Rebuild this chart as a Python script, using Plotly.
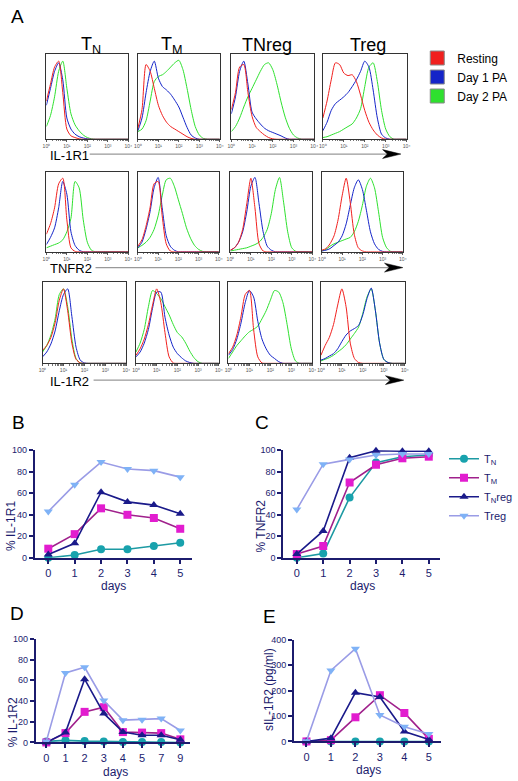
import math
import plotly.graph_objects as go

W, H = 518, 781

# ---------------- data ----------------
LOG_X = [0.0, 0.2, 0.4, 0.6, 0.8, 1.0, 1.2, 1.4, 1.6, 1.8, 2.0,
         2.2, 2.4, 2.6, 2.8, 3.0, 3.2, 3.4, 3.6, 3.8, 4.0]
DECADE_TICKS = [0, 1, 2, 3, 4]
DECADE_LABELS = ["10⁰", "10¹", "10²", "10³", "10⁴"]

CELL_TYPES = ["T<sub>N</sub>", "T<sub>M</sub>", "TNreg", "Treg"]
ROW_MARKERS = ["IL-1R1", "TNFR2", "IL-1R2"]
CONDITIONS = ["Resting", "Day 1 PA", "Day 2 PA"]

# histogram heights (% of mode) at LOG_X, order: TN, TM, TNreg, Treg
IL1R1_RESTING = [
    [45, 65, 85, 92, 55, 12, 4, 2, 0.5, 0, 0, 0, 0, 0, 0, 0, 0, 0, 0, 0, 0],
    [13, 35, 88, 80, 60, 40, 28, 20, 15, 12, 9, 6, 3, 1, 0, 0, 0, 0, 0, 0, 0],
    [35, 55, 85, 88, 55, 27, 14, 9, 5, 2, 0.5, 0, 0, 0, 0, 0, 0, 0, 0, 0, 0],
    [25, 45, 70, 90, 88, 78, 75, 76, 68, 52, 34, 20, 11, 5, 1.5, 0, 0, 0, 0, 0, 0],
]
IL1R1_DAY1 = [
    [40, 60, 80, 90, 70, 25, 12, 6, 3, 1.5, 0.5, 0, 0, 0, 0, 0, 0, 0, 0, 0, 0],
    [10, 25, 55, 80, 92, 72, 62, 58, 53, 46, 38, 26, 14, 5, 1.5, 0, 0, 0, 0, 0, 0],
    [30, 50, 80, 92, 65, 32, 24, 18, 13, 10, 8, 6, 4, 1.5, 0, 0, 0, 0, 0, 0, 0],
    [10, 20, 34, 42, 46, 50, 55, 62, 70, 80, 92, 85, 58, 25, 6, 1.5, 0, 0, 0, 0, 0],
]
IL1R1_DAY2 = [
    [15, 28, 50, 80, 92, 60, 30, 17, 10, 5, 2, 0.5, 0, 0, 0, 0, 0, 0, 0, 0, 0],
    [9, 12, 22, 45, 68, 74, 76, 80, 85, 90, 93, 82, 60, 35, 15, 5, 1, 0, 0, 0, 0],
    [9, 15, 25, 38, 50, 60, 70, 80, 88, 90, 82, 65, 44, 26, 13, 5, 1.5, 0, 0, 0, 0],
    [2, 3, 5, 7, 9, 12, 15, 18, 25, 36, 62, 85, 90, 68, 34, 12, 3, 0, 0, 0, 0],
]

TNFR2_RESTING = [
    [22, 35, 55, 85, 92, 40, 5, 0.5, 0, 0, 0, 0, 0, 0, 0, 0, 0, 0, 0, 0, 0],
    [7, 15, 32, 55, 85, 88, 45, 10, 1, 0, 0, 0, 0, 0, 0, 0, 0, 0, 0, 0, 0],
    [2, 5, 12, 28, 60, 92, 55, 10, 1, 0, 0, 0, 0, 0, 0, 0, 0, 0, 0, 0, 0],
    [2, 4, 10, 20, 40, 70, 92, 62, 22, 5, 1, 0, 0, 0, 0, 0, 0, 0, 0, 0, 0],
]
TNFR2_DAY1 = [
    [9, 18, 30, 55, 88, 72, 25, 8, 2, 0, 0, 0, 0, 0, 0, 0, 0, 0, 0, 0, 0],
    [5, 12, 28, 50, 80, 93, 55, 20, 7, 2, 0, 0, 0, 0, 0, 0, 0, 0, 0, 0, 0],
    [2, 5, 12, 25, 50, 82, 93, 60, 25, 7, 2, 0, 0, 0, 0, 0, 0, 0, 0, 0, 0],
    [1, 2, 4, 8, 12, 20, 35, 58, 80, 90, 78, 52, 25, 10, 3, 0.5, 0, 0, 0, 0, 0],
]
TNFR2_DAY2 = [
    [5, 7, 9, 11, 15, 25, 42, 88, 80, 40, 12, 2, 0, 0, 0, 0, 0, 0, 0, 0, 0],
    [5, 8, 12, 18, 28, 45, 70, 90, 92, 82, 65, 48, 30, 17, 8, 3, 0.5, 0, 0, 0, 0],
    [1, 2, 3, 4, 5, 7, 9, 12, 18, 28, 48, 78, 93, 62, 25, 5, 0.5, 0, 0, 0, 0],
    [1, 3, 7, 10, 12, 14, 16, 18, 25, 38, 58, 82, 92, 80, 50, 18, 5, 0.5, 0, 0, 0],
]

IL1R2_RESTING = [
    [16, 22, 32, 50, 78, 92, 65, 25, 5, 0.5, 0, 0, 0, 0, 0, 0, 0, 0, 0, 0, 0],
    [10, 18, 30, 48, 72, 92, 75, 38, 8, 0.5, 0, 0, 0, 0, 0, 0, 0, 0, 0, 0, 0],
    [12, 20, 35, 58, 85, 90, 42, 8, 0.5, 0, 0, 0, 0, 0, 0, 0, 0, 0, 0, 0, 0],
    [10, 22, 32, 48, 72, 92, 70, 25, 6, 1, 0, 0, 0, 0, 0, 0, 0, 0, 0, 0, 0],
]
IL1R2_DAY1 = [
    [8, 14, 24, 40, 65, 85, 92, 58, 20, 4, 0.5, 0, 0, 0, 0, 0, 0, 0, 0, 0, 0],
    [8, 14, 25, 42, 68, 88, 88, 57, 35, 20, 12, 7, 3, 1, 0, 0, 0, 0, 0, 0, 0],
    [10, 17, 30, 50, 75, 90, 82, 52, 30, 18, 10, 6, 2, 0, 0, 0, 0, 0, 0, 0, 0],
    [4, 6, 9, 12, 18, 27, 35, 40, 43, 47, 60, 80, 93, 65, 25, 5, 1, 0, 0, 0, 0],
]
IL1R2_DAY2 = [
    [14, 22, 35, 55, 85, 92, 70, 30, 6, 0.5, 0, 0, 0, 0, 0, 0, 0, 0, 0, 0, 0],
    [14, 25, 42, 70, 90, 86, 80, 70, 60, 48, 38, 33, 25, 15, 7, 2, 0, 0, 0, 0, 0],
    [6, 14, 22, 28, 34, 39, 42, 46, 55, 65, 78, 90, 88, 75, 48, 18, 3, 0, 0, 0, 0],
    [3, 5, 7, 10, 14, 18, 23, 30, 37, 45, 62, 82, 92, 65, 25, 5, 1, 0, 0, 0, 0],
]

HIST_ROWS = [
    [IL1R1_RESTING, IL1R1_DAY1, IL1R1_DAY2],
    [TNFR2_RESTING, TNFR2_DAY1, TNFR2_DAY2],
    [IL1R2_RESTING, IL1R2_DAY1, IL1R2_DAY2],
]

SERIES = ["T<sub>N</sub>", "T<sub>M</sub>", "T<sub>N</sub>reg", "Treg"]

DAYS_BC = [0, 1, 2, 3, 4, 5]
B_IL1R1 = [
    [0, 2.7, 8, 8, 11, 14],
    [8.5, 22, 46, 40, 37, 27],
    [3, 13.5, 61, 52, 49, 41],
    [43, 68, 89, 82.5, 81, 75],
]
C_TNFR2 = [
    [0, 4, 56, 88.5, 94, 95.5],
    [3.5, 11, 70, 86.5, 92.5, 94],
    [3.5, 25, 93, 99.5, 99, 99],
    [45, 87, 91.5, 95.5, 96.5, 96.5],
]
DAYS_D = ["0", "1", "2", "3", "4", "5", "7", "9"]
D_IL1R2 = [
    [1, 2, 1.3, 1, 0.3, 0.3, 0.3, 0],
    [0, 9, 29.5, 34, 10, 9.5, 9, 3],
    [0, 9.5, 61, 28, 10, 7, 7, 2.5],
    [1, 67, 72.5, 40.5, 21.5, 22, 23, 11.5],
]
DAYS_E = [0, 1, 2, 3, 4, 5]
E_SIL1R2 = [
    [0, 0, 0, 0, 0, 0],
    [0, 5, 95, 182, 112, 10],
    [0, 13, 192, 175, 39, 8],
    [1, 279, 365, 104, 58, 29],
]

# ---------------- style ----------------
FONT = "Liberation Sans, Arial, sans-serif"
NAVY = "#1c1c6e"
HIST_COLORS = ["#f0201e", "#1424c8", "#2ee02e"]
LINE_COLORS = ["#1d9aa3", "#a0218c", "#1a1a8a", "#9a9ce6"]
MARKER_COLORS = ["#18a2ad", "#e21ccf", "#1a1a8a", "#7fb2f6"]
SYMBOLS = ["circle", "square", "triangle-up", "triangle-down"]


def px(x):
    return x / W


def py(y):
    return 1 - y / H


HIST_Y = [(50, 136), (169, 250), (281, 363)]
HIST_X = [
    [(44, 129), (139, 224), (236, 322), (331, 418)],
    [(44, 129), (139, 223), (235, 320), (330, 414)],
    [(40, 127), (137, 223), (233, 320), (329, 416)],
]

MINOR_VALS = [d + math.log10(k) for d in range(4) for k in range(2, 10)]

fig = go.Figure()
layout = {}
n = 0
for r in range(3):
    for c in range(4):
        n += 1
        xa = "x" if n == 1 else f"x{n}"
        ya = "y" if n == 1 else f"y{n}"
        # draw green, blue, red (red on top)
        for k in [2, 1, 0]:
            fig.add_trace(go.Scatter(
                x=LOG_X, y=HIST_ROWS[r][k][c], mode="lines",
                line=dict(color=HIST_COLORS[k], width=1, shape="spline", smoothing=0.7),
                xaxis=xa, yaxis=ya, showlegend=False, hoverinfo="skip"))
        x0, x1 = HIST_X[r][c]
        y0, y1 = HIST_Y[r]
        layout["xaxis" if n == 1 else f"xaxis{n}"] = dict(
            domain=[px(x0), px(x1)], anchor=ya, range=[0, 4],
            showline=True, linecolor="#333", linewidth=1, mirror=True,
            showgrid=False, zeroline=False,
            tickmode="array", tickvals=DECADE_TICKS, ticktext=DECADE_LABELS,
            ticks="outside", ticklen=2, tickwidth=0.6, tickcolor="#555",
            tickfont=dict(size=5, color="#555"),
            minor=dict(tickmode="array", tickvals=MINOR_VALS, ticks="outside",
                       ticklen=1.2, tickwidth=0.5, tickcolor="#777", showgrid=False),
        )
        layout["yaxis" if n == 1 else f"yaxis{n}"] = dict(
            domain=[py(y1), py(y0)], anchor=xa, range=[0, 100],
            showline=True, linecolor="#333", linewidth=1, mirror=True,
            showgrid=False, zeroline=False, showticklabels=False, ticks="",
        )

# legend entries for histogram conditions
for k in range(3):
    fig.add_trace(go.Scatter(
        x=[None], y=[None], mode="markers", name=CONDITIONS[k],
        marker=dict(symbol="square", size=14, color=HIST_COLORS[k],
                    line=dict(color="#888", width=1)),
        legend="legend2", xaxis="x", yaxis="y", hoverinfo="skip"))

# line panels
panels = [
    dict(xs=DAYS_BC, ys=B_IL1R1, xd=(32, 195), yd=(451, 560), xr=[-0.51, 5.44],
         yr=[0, 100], dtick=20, legend=True, cat=False),
    dict(xs=DAYS_BC, ys=C_TNFR2, xd=(290, 453), yd=(451, 560), xr=[-0.51, 5.44],
         yr=[0, 100], dtick=20, legend=False, cat=False),
    dict(xs=DAYS_D, ys=D_IL1R2, xd=(33, 193), yd=(642, 747), xr=[-0.55, 7.5],
         yr=[0, 100], dtick=20, legend=False, cat=True),
    dict(xs=DAYS_E, ys=E_SIL1R2, xd=(301, 454), yd=(643, 746), xr=[-0.51, 5.51],
         yr=[0, 400], dtick=100, legend=False, cat=False),
]
for p in panels:
    n += 1
    xa, ya = f"x{n}", f"y{n}"
    for s in range(4):
        fig.add_trace(go.Scatter(
            x=p["xs"], y=p["ys"][s], mode="lines+markers", name=SERIES[s],
            line=dict(color=LINE_COLORS[s], width=1.6),
            marker=dict(symbol=SYMBOLS[s], size=8, color=MARKER_COLORS[s]),
            xaxis=xa, yaxis=ya, showlegend=p["legend"], legend="legend",
            cliponaxis=False))
    xax = dict(
        domain=[px(p["xd"][0]), px(p["xd"][1])], anchor=ya, range=p["xr"],
        showline=True, linecolor=NAVY, linewidth=2, showgrid=False, zeroline=False,
        ticks="outside", ticklen=4, tickwidth=1.5, tickcolor=NAVY,
        tickfont=dict(size=11, color=NAVY, family=FONT),
    )
    if p["cat"]:
        xax.update(type="category")
    else:
        xax.update(tickmode="linear", tick0=0, dtick=1)
    layout[f"xaxis{n}"] = xax
    layout[f"yaxis{n}"] = dict(
        domain=[py(p["yd"][1]), py(p["yd"][0])], anchor=xa, range=p["yr"],
        showline=True, linecolor=NAVY, linewidth=2, showgrid=False, zeroline=False,
        ticks="outside", ticklen=4, tickwidth=1.5, tickcolor=NAVY,
        tickmode="linear", tick0=0, dtick=p["dtick"],
        tickfont=dict(size=9, color=NAVY, family=FONT),
    )

annotations = []


def ann(text, x, y, size, color="black", xanchor="center", angle=0):
    annotations.append(dict(
        text=text, x=px(x), y=py(y), xref="paper", yref="paper",
        xanchor=xanchor, yanchor="middle", showarrow=False, textangle=angle,
        font=dict(size=size, color=color, family=FONT)))


# panel letters
ann("A", 14, 12, 19)
ann("B", 15, 423, 19)
ann("C", 268, 423, 19)
ann("D", 13, 616, 19)
ann("E", 276, 619, 19)

# column titles
for txt, xc in zip(CELL_TYPES, [90, 174, 273, 378]):
    ann(txt, xc, 41, 18)

# row marker labels + arrows
shapes = []
ARROWS = [(151, 89, 412), (266, 95, 414), (380, 93, 415)]
for label, (yy, xs, xt) in zip(ROW_MARKERS, ARROWS):
    ann(label, 46, yy + 1, 13, xanchor="left")
    shapes.append(dict(type="line", xref="paper", yref="paper",
                       x0=px(xs), x1=px(xt - 12), y0=py(yy), y1=py(yy),
                       line=dict(color="#999", width=1.2)))
    path = (f"M {px(xt-19)} {py(yy-4.5)} L {px(xt)} {py(yy)} "
            f"L {px(xt-19)} {py(yy+4.5)} L {px(xt-14)} {py(yy)} Z")
    shapes.append(dict(type="path", xref="paper", yref="paper", path=path,
                       fillcolor="black", line=dict(color="black", width=0.5)))

# axis titles for line panels
ann("% IL-1R1", 8, 528, 12, NAVY, angle=-90)
ann("% TNFR2", 267, 528, 12, NAVY, angle=-90)
ann("% IL-1R2", 9, 727, 12, NAVY, angle=-90)
ann("sIL-1R2 (pg/ml)", 275, 693, 12, NAVY, angle=-90)
ann("days", 114, 589, 12, NAVY)
ann("days", 372, 589, 12, NAVY)
ann("days", 116, 777, 12, NAVY)
ann("days", 378, 775, 12, NAVY)

layout.update(
    width=W, height=H, margin=dict(l=0, r=0, t=0, b=0),
    paper_bgcolor="white", plot_bgcolor="white",
    font=dict(family=FONT),
    annotations=annotations, shapes=shapes,
    legend=dict(x=px(457), y=py(445), xanchor="left", yanchor="top",
                font=dict(size=11, color=NAVY, family=FONT),
                bgcolor="rgba(0,0,0,0)", itemwidth=30, tracegroupgap=0),
    legend2=dict(x=px(429), y=py(39), xanchor="left", yanchor="top",
                 font=dict(size=12, color="black", family=FONT),
                 bgcolor="rgba(0,0,0,0)", itemwidth=30),
)
fig.update_layout(**layout)
fig.write_html("out.html",
               config={"displayModeBar": False},
               post_script="document.body.style.margin='0';document.body.style.overflow='hidden';")
